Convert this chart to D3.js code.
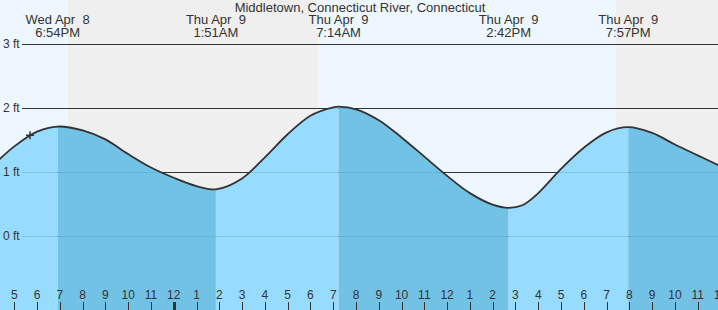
<!DOCTYPE html>
<html>
<head>
<meta charset="utf-8">
<script src="https://cdn.jsdelivr.net/npm/d3@7"></script>
<style>
  html, body { margin: 0; padding: 0; background: #fff; }
  svg { display: block; font-family: "Liberation Sans", Arial, sans-serif; }
</style>
</head>
<body>
<svg id="chart" width="718" height="310"></svg>
<script>
// ---- data (hours counted from Wed Apr 8 00:00) ----
const title = "Middletown, Connecticut River, Connecticut";

// water level readings (ft)
const sampleHours  = [16, 17, 18, 18.9, 20, 21, 22, 23, 24, 25, 25.85, 27, 28, 29, 30, 31, 31.233, 32, 33, 34, 35, 36, 37, 38, 38.7, 39.3, 40, 41, 42, 43, 43.95, 45, 46, 47, 48];
const sampleLevels = [1.08, 1.40, 1.63, 1.71, 1.65, 1.51, 1.28, 1.07, 0.91, 0.78, 0.73, 0.90, 1.23, 1.59, 1.88, 2.01, 2.02, 1.98, 1.81, 1.54, 1.24, 0.94, 0.67, 0.49, 0.44, 0.48, 0.67, 1.05, 1.38, 1.62, 1.70, 1.61, 1.43, 1.26, 1.09];

// tide extremes
const eventHours = [18.9, 25.85, 31.233, 38.7, 43.95];
const eventDays  = ["Wed Apr  8", "Thu Apr  9", "Thu Apr  9", "Thu Apr  9", "Thu Apr  9"];
const eventClock = ["6:54PM", "1:51AM", "7:14AM", "2:42PM", "7:57PM"];

// daylight (sunset, sunrise, sunset)
const sunEvents = [19.35, 30.35, 43.41];

// axes
const levelTicks = [0, 1, 2, 3];
const levelTickLabels = ["0 ft", "1 ft", "2 ft", "3 ft"];
const hourTicks = d3.range(17, 49);
const hourTickLabels = ["5","6","7","8","9","10","11","12","1","2","3","4","5","6","7","8","9","10","11","12","1","2","3","4","5","6","7","8","9","10","11","12"];
const nowHour = 17.69;

// ---- layout ----
const W = 718, H = 310;
const svg = d3.select("#chart");
const x = d3.scaleLinear().domain([16.372, 16.372 + W / 22.78]).range([0, W]);
const y = d3.scaleLinear().domain([0, 3]).range([236, 44]);

// sky background
const skyDay = "#eef7ff", skyNight = "#efefef";
const skyBounds = [x.domain()[0]].concat(sunEvents, [x.domain()[1]]);
for (let i = 0; i < skyBounds.length - 1; i++) {
  svg.append("rect")
    .attr("x", x(skyBounds[i])).attr("y", 0)
    .attr("width", x(skyBounds[i + 1]) - x(skyBounds[i])).attr("height", H)
    .attr("fill", i % 2 === 0 ? skyDay : skyNight);
}

// grid lines
svg.selectAll("line.grid").data(levelTicks).join("line")
  .attr("class", "grid")
  .attr("x1", 22).attr("x2", W)
  .attr("y1", d => Math.round(y(d)) + 0.5).attr("y2", d => Math.round(y(d)) + 0.5)
  .attr("stroke", "#333").attr("stroke-width", 1.2);

// water area
const pts = sampleHours.map((h, i) => [h, sampleLevels[i]]);
const crv = d3.curveCatmullRom.alpha(0.5);
const area = d3.area().x(d => x(d[0])).y0(H).y1(d => y(d[1])).curve(crv);
const line = d3.line().x(d => x(d[0])).y(d => y(d[1])).curve(crv);

const defs = svg.append("defs");
const waterBounds = [x.domain()[0]].concat(eventHours, [x.domain()[1]]);
for (let i = 0; i < waterBounds.length - 1; i++) {
  const id = "clipw" + i;
  defs.append("clipPath").attr("id", id).append("rect")
    .attr("x", x(waterBounds[i])).attr("y", 0)
    .attr("width", x(waterBounds[i + 1]) - x(waterBounds[i])).attr("height", H);
  svg.append("path").datum(pts)
    .attr("clip-path", `url(#${id})`)
    .attr("d", area)
    .attr("fill", i % 2 === 0 ? "#97dcfe" : "#72c2e6");
}

// grid lines seen through water
defs.append("clipPath").attr("id", "clipwater").append("path").datum(pts).attr("d", area);
svg.append("g").attr("clip-path", "url(#clipwater)")
  .selectAll("line").data(levelTicks).join("line")
  .attr("x1", 22).attr("x2", W)
  .attr("y1", d => Math.round(y(d)) + 0.5).attr("y2", d => Math.round(y(d)) + 0.5)
  .attr("stroke", "#1a78b4").attr("stroke-opacity", 0.2).attr("stroke-width", 1.2);

// tide curve
const curve = svg.append("path").datum(pts)
  .attr("d", line).attr("fill", "none")
  .attr("stroke", "#333").attr("stroke-width", 1.8);

// level labels
svg.selectAll("text.lvl").data(levelTicks).join("text")
  .attr("class", "lvl")
  .attr("x", 3).attr("y", d => y(d)).attr("dy", "0.36em")
  .attr("font-size", 12).attr("fill", "#333")
  .text((d, i) => levelTickLabels[i]);

// title
svg.append("text").attr("x", 360).attr("y", 12)
  .attr("text-anchor", "middle").attr("font-size", 13).attr("fill", "#333")
  .text(title);

// event labels
eventHours.forEach((h, i) => {
  const t = svg.append("text").attr("text-anchor", "middle")
    .attr("font-size", 13).attr("fill", "#333").style("white-space", "pre");
  t.append("tspan").attr("x", x(h)).attr("y", 23.5).text(eventDays[i]);
  t.append("tspan").attr("x", x(h)).attr("y", 36.5).text(eventClock[i]);
});

// hour ticks
const tg = svg.append("g");
hourTicks.forEach((h, i) => {
  const midnight = h % 24 === 0;
  tg.append("line")
    .attr("x1", Math.round(x(h)) + 0.5).attr("x2", Math.round(x(h)) + 0.5)
    .attr("y1", 302).attr("y2", H)
    .attr("stroke", "#333").attr("stroke-width", midnight ? 3 : 1);
  tg.append("text").attr("x", x(h)).attr("y", 299)
    .attr("text-anchor", "middle").attr("font-size", 12).attr("fill", "#333")
    .text(hourTickLabels[i]);
});

// current-time marker on the curve
const node = curve.node();
const len = node.getTotalLength();
const targetX = x(nowHour);
let lo = 0, hi = len;
for (let k = 0; k < 40; k++) {
  const mid = (lo + hi) / 2;
  if (node.getPointAtLength(mid).x < targetX) lo = mid; else hi = mid;
}
const p = node.getPointAtLength(lo);
svg.append("path")
  .attr("d", `M${p.x - 4},${p.y}H${p.x + 4}M${p.x},${p.y - 4}V${p.y + 4}`)
  .attr("stroke", "#333").attr("stroke-width", 1.5).attr("fill", "none");
</script>
</body>
</html>
